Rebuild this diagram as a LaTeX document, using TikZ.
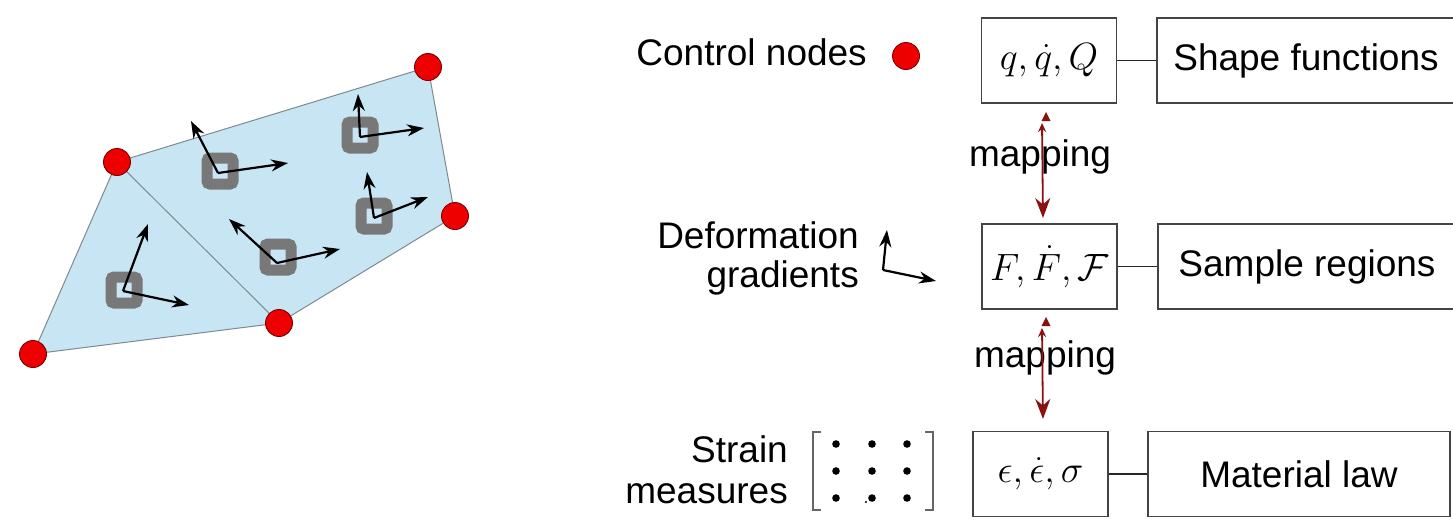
\RequirePackage{fix-cm}
\documentclass[tikz,border=0pt]{standalone}
\usepackage[no-math]{fontspec}
\setmainfont{Liberation Sans}
\usetikzlibrary{arrows.meta}
\definecolor{rednode}{HTML}{EE0000}
\definecolor{rededge}{HTML}{7A0000}
\definecolor{meshblue}{HTML}{C8E5F4}
\definecolor{meshedge}{HTML}{7F8A90}
\definecolor{sqgray}{HTML}{787878}
\definecolor{mapred}{HTML}{8B1010}
\definecolor{boxedge}{HTML}{444444}
\begin{document}
\begin{tikzpicture}[x=1pt,y=-1pt,
  ctrl/.style={circle,fill=rednode,draw=rededge,line width=0.9pt,minimum size=27pt,inner sep=0pt},
  sq/.style={draw=sqgray,line width=11pt,rounded corners=3pt,minimum size=26pt,inner sep=0pt},
  vec/.style={line width=2.2pt,-{Stealth[length=17pt,width=12pt]}},
  lbl/.style={font=\fontsize{37}{40}\selectfont,inner sep=0pt},
  mbox/.style={draw=boxedge,line width=1.3pt,inner sep=0pt,minimum height=85pt,minimum width=135pt,font=\fontsize{38}{40}\selectfont},
  tbox/.style={draw=boxedge,line width=1.3pt,inner sep=0pt,minimum height=85pt,font=\fontsize{37}{40}\selectfont},
  link/.style={draw=black!85,line width=1.5pt},
  maparrow/.style={draw=mapred,line width=1.8pt,{Stealth[length=9pt,width=8pt]}-{Stealth[length=20pt,width=15pt]}},
  bracket/.style={draw=black!60,line width=1.3pt},
]
\useasboundingbox (0,0) rectangle (1453,528);
\clip (0,0) rectangle (1453,528);
\fill[white] (0,0) rectangle (1453,528);

% ---------- mesh ----------
\coordinate (p1) at (33,354);
\coordinate (p2) at (117,162);
\coordinate (p3) at (428,67);
\coordinate (p4) at (455,216);
\coordinate (p5) at (279,323);
\filldraw[fill=meshblue,draw=meshedge,line width=1pt] (p1) -- (p2) -- (p3) -- (p4) -- (p5) -- cycle;
\draw[meshedge,line width=1pt] (p2) -- (p5);

% sample regions
\node[sq] (s1) at (124,290) {};
\node[sq] (s2) at (220,171) {};
\node[sq] (s3) at (360,135) {};
\node[sq] (s4) at (278,257) {};
\node[sq] (s5) at (374,216) {};

% deformation gradient vectors
\coordinate (o1) at (123,291); \coordinate (u1) at (148,224); \coordinate (r1) at (189,305);
\coordinate (o2) at (218,173); \coordinate (u2) at (191,121); \coordinate (r2) at (288,163);
\coordinate (o3) at (360,137); \coordinate (u3) at (358,94);  \coordinate (r3) at (424,128);
\coordinate (o4) at (277,263); \coordinate (u4) at (229,219); \coordinate (r4) at (340,249);
\coordinate (o5) at (374,218); \coordinate (u5) at (367,172); \coordinate (r5) at (428,197);
\foreach \i in {1,...,5}{
  \draw[vec] (o\i) -- (u\i);
  \draw[vec] (o\i) -- (r\i);
}

% control nodes
\node[ctrl] (c1) at (p1) {};
\node[ctrl] (c2) at (p2) {};
\node[ctrl] (c3) at (p3) {};
\node[ctrl] (c4) at (p4) {};
\node[ctrl] (c5) at (p5) {};

% ---------- legend ----------
\node[lbl,anchor=base east] (lctrl) at (867,65) {Control nodes};
\node[ctrl] (lcdot) at (906,56) {};

\node[lbl,anchor=base east] (ldefa) at (859,248) {Deformation};
\node[lbl,anchor=base east] (ldefb) at (859,287) {gradients};
\coordinate (io) at (883,270);
\coordinate (iu) at (887,230);
\coordinate (ir) at (936,281);
\draw[vec] (io) -- (iu);
\draw[vec] (io) -- (ir);

\node[lbl,anchor=base east] (lstra) at (788,462) {Strain};
\node[lbl,anchor=base east] (lstrb) at (788,503) {measures};
\draw[bracket] (821,432) -- (813,432) -- (813,510) -- (821,510);
\draw[bracket] (925,432) -- (933,432) -- (933,510) -- (925,510);
\foreach \cx in {836,872,907}{
  \foreach \cy in {444,471,498}{
    \fill (\cx,\cy) circle (3.8);
  }
}
\fill (866,502) circle (1.2);

% ---------- boxes ----------
\node[mbox] (qbox) at (1049,60.5) {$q,\dot{q},Q$};
\node[tbox,minimum width=298pt] (shape) at (1306,60.5) {Shape functions};
\node[mbox] (fbox) at (1049.5,266.5) {$F,\dot{F},\mathcal{F}$};
\node[tbox,minimum width=298pt] (sample) at (1307,266.5) {Sample regions};
\node[mbox] (ebox) at (1040.5,474) {$\epsilon,\dot{\epsilon},\sigma$};
\node[tbox,minimum width=302pt] (material) at (1299,474) {Material law};

\draw[link] (qbox.east) -- (shape.west);
\draw[link] (fbox.east) -- (sample.west);
\draw[link] (ebox.east) -- (material.west);

% mapping labels and arrows
\node[lbl,anchor=base] (map1) at (1040,166) {mapping};
\node[lbl,anchor=base] (map2) at (1045,367) {mapping};

\coordinate (m1t) at (1042,123);
\coordinate (m1b) at (1043,218);
\coordinate (m2t) at (1042,328);
\coordinate (m2b) at (1043,419);
\draw[maparrow] (m1t) -- (m1b);
\draw[maparrow] (m2t) -- (m2b);
\fill[mapred] (1041.5,121) -- (1046,112) -- (1050.5,121) -- cycle;
\fill[mapred] (1041.5,326) -- (1046,317) -- (1050.5,326) -- cycle;
\end{tikzpicture}
\end{document}
